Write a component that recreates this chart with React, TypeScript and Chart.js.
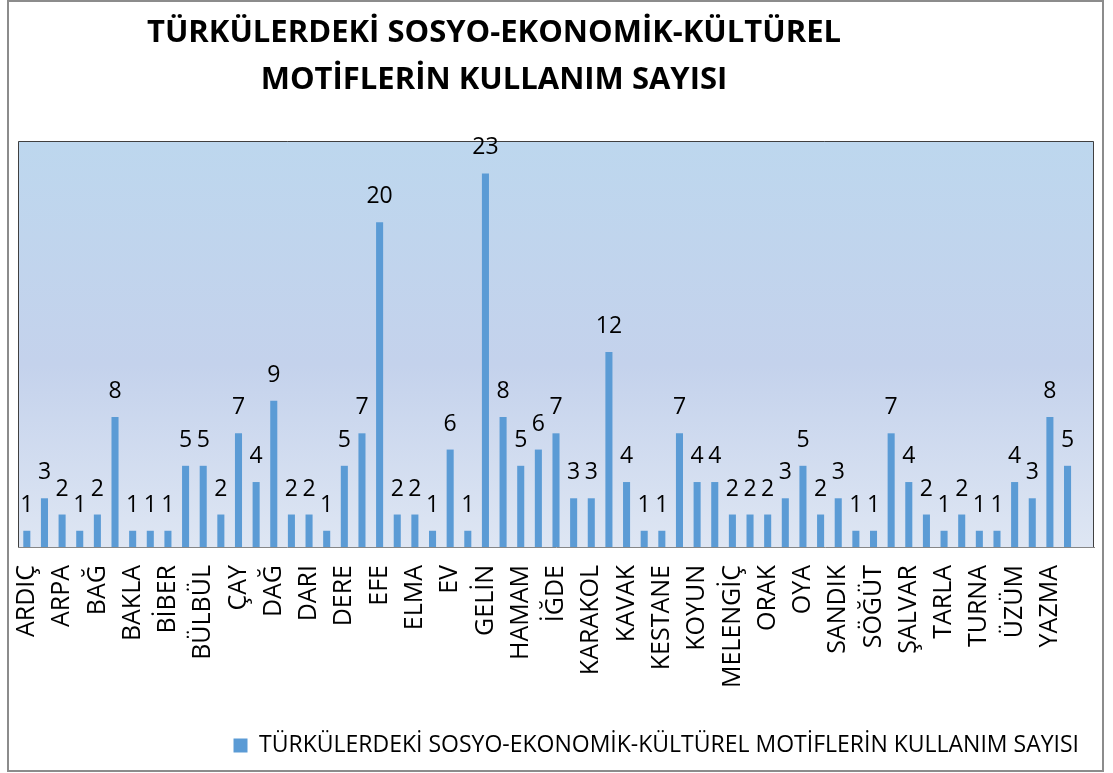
import React, { useEffect, useRef } from 'react';
import { Chart, registerables } from 'chart.js';

Chart.register(...registerables);

const TITLE_LINES = ['TÜRKÜLERDEKİ SOSYO-EKONOMİK-KÜLTÜREL', 'MOTİFLERİN KULLANIM SAYISI'];
const SERIES_LABEL = 'TÜRKÜLERDEKİ SOSYO-EKONOMİK-KÜLTÜREL MOTİFLERİN KULLANIM SAYISI';

const categories = [
  'ARDIÇ', 'ARMUT', 'ARPA', 'AYVA', 'BAĞ', 'BAHÇE', 'BAKLA', 'BASMA', 'BİBER', 'BOSTAN',
  'BÜLBÜL', 'CEVİZ', 'ÇAY', 'ÇEŞME', 'DAĞ', 'DAMAT', 'DARI', 'DAVUL', 'DERE', 'DUT',
  'EFE', 'EKİN', 'ELMA', 'ERİK', 'EV', 'FINDIK', 'GELİN', 'GÜL', 'HAMAM', 'HANÇER',
  'İĞDE', 'KAPI', 'KARAKOL', 'KARANFİL', 'KAVAK', 'KEMER', 'KESTANE', 'KİLİM', 'KOYUN', 'KUZU',
  'MELENGİÇ', 'NAR', 'ORAK', 'ORMAN', 'OYA', 'PINAR', 'SANDIK', 'SAZ', 'SÖĞÜT', 'SU',
  'ŞALVAR', 'ŞEFTALİ', 'TARLA', 'TEPSİ', 'TURNA', 'TÜTÜN', 'ÜZÜM', 'YAYLA', 'YAZMA', 'ZEYTİN',
  '',
];

const counts: (number | null)[] = [
  1, 3, 2, 1, 2, 8, 1, 1, 1, 5,
  5, 2, 7, 4, 9, 2, 2, 1, 5, 7,
  20, 2, 2, 1, 6, 1, 23, 8, 5, 6,
  7, 3, 3, 12, 4, 1, 1, 7, 4, 4,
  2, 2, 2, 3, 5, 2, 3, 1, 1, 7,
  4, 2, 1, 2, 1, 1, 4, 3, 8, 5,
  null,
];

const yMax = 25;

const FONT = "'Open Sans', 'DejaVu Sans', sans-serif";

const decorPlugin = {
  id: 'decor',
  beforeDraw(chart: any) {
    const { ctx, chartArea: a } = chart;
    ctx.save();
    ctx.fillStyle = '#ffffff';
    ctx.fillRect(0, 0, chart.width, chart.height);
    const g = ctx.createLinearGradient(0, a.top, 0, a.bottom);
    g.addColorStop(0, '#BDD7EE');
    g.addColorStop(0.55, '#C4D2EC');
    g.addColorStop(1, '#DEE6F3');
    ctx.fillStyle = g;
    ctx.fillRect(a.left, a.top, a.right - a.left, a.bottom - a.top);
    ctx.strokeStyle = '#8c8c8c';
    ctx.lineWidth = 2;
    ctx.strokeRect(8, 1, 1095, 770);
    ctx.fillStyle = '#000000';
    ctx.font = `bold 31px ${FONT}`;
    ctx.textAlign = 'center';
    ctx.textBaseline = 'alphabetic';
    ctx.fillText(TITLE_LINES[0], 494, 42);
    ctx.fillText(TITLE_LINES[1], 494, 89);
    ctx.restore();
  },
  beforeDatasetsDraw(chart: any) {
    const { ctx, chartArea: a } = chart;
    ctx.save();
    ctx.strokeStyle = '#404040';
    ctx.lineWidth = 1;
    ctx.beginPath();
    ctx.moveTo(Math.round(a.left) + 0.5, Math.round(a.bottom));
    ctx.lineTo(Math.round(a.left) + 0.5, Math.round(a.top) + 0.5);
    ctx.lineTo(Math.round(a.right) - 0.5, Math.round(a.top) + 0.5);
    ctx.lineTo(Math.round(a.right) - 0.5, Math.round(a.bottom));
    ctx.stroke();
    ctx.restore();
  },
  afterDatasetsDraw(chart: any) {
    const { ctx } = chart;
    const meta = chart.getDatasetMeta(0);
    const data = chart.data.datasets[0].data;
    ctx.save();
    ctx.fillStyle = '#000000';
    ctx.font = `23px ${FONT}`;
    ctx.textAlign = 'center';
    ctx.textBaseline = 'alphabetic';
    meta.data.forEach((bar: any, i: number) => {
      const v = data[i];
      if (v === null || v === undefined) return;
      ctx.fillText(String(v), bar.x, bar.y - 19);
    });
    ctx.restore();
  },
};

export default function App() {
  const canvasRef = useRef<HTMLCanvasElement | null>(null);

  useEffect(() => {
    const canvas = canvasRef.current;
    if (!canvas) return;
    const chart = new Chart(canvas, {
      type: 'bar',
      data: {
        labels: categories,
        datasets: [
          {
            label: SERIES_LABEL,
            data: counts,
            backgroundColor: '#5B9BD5',
            borderWidth: 0,
            categoryPercentage: 1,
            barPercentage: 0.4,
          },
        ],
      },
      options: {
        responsive: false,
        animation: false,
        layout: { padding: { top: 141, left: 18, right: 19, bottom: 6 } },
        scales: {
          x: {
            grid: { display: false, drawTicks: false },
            border: { display: true, color: '#868686', width: 1 },
            afterFit: (scale: any) => {
              scale.height = 172;
              scale.paddingLeft = 0;
              scale.paddingRight = 0;
            },
            ticks: {
              autoSkip: false,
              maxRotation: 90,
              minRotation: 90,
              padding: 18,
              color: '#000000',
              font: { family: FONT, size: 25 },
              callback: function (this: any, value: any, index: number) {
                return index % 2 === 0 ? this.getLabelForValue(value) : '';
              },
            },
          },
          y: {
            display: false,
            min: 0,
            max: yMax,
          },
        },
        plugins: {
          title: { display: false },
          tooltip: { enabled: false },
          legend: {
            display: true,
            position: 'bottom',
            align: 'end',
            labels: {
              color: '#000000',
              font: { family: FONT, size: 23 },
              boxWidth: 14,
              boxHeight: 14,
              padding: 15,
            },
          },
        },
      },
      plugins: [decorPlugin],
    });
    return () => chart.destroy();
  }, []);

  return (
    <div style={{ position: 'fixed', left: 0, top: 0, width: 1113, height: 773, background: '#fff' }}>
      <canvas ref={canvasRef} width={1113} height={773} style={{ display: 'block' }} />
    </div>
  );
}
